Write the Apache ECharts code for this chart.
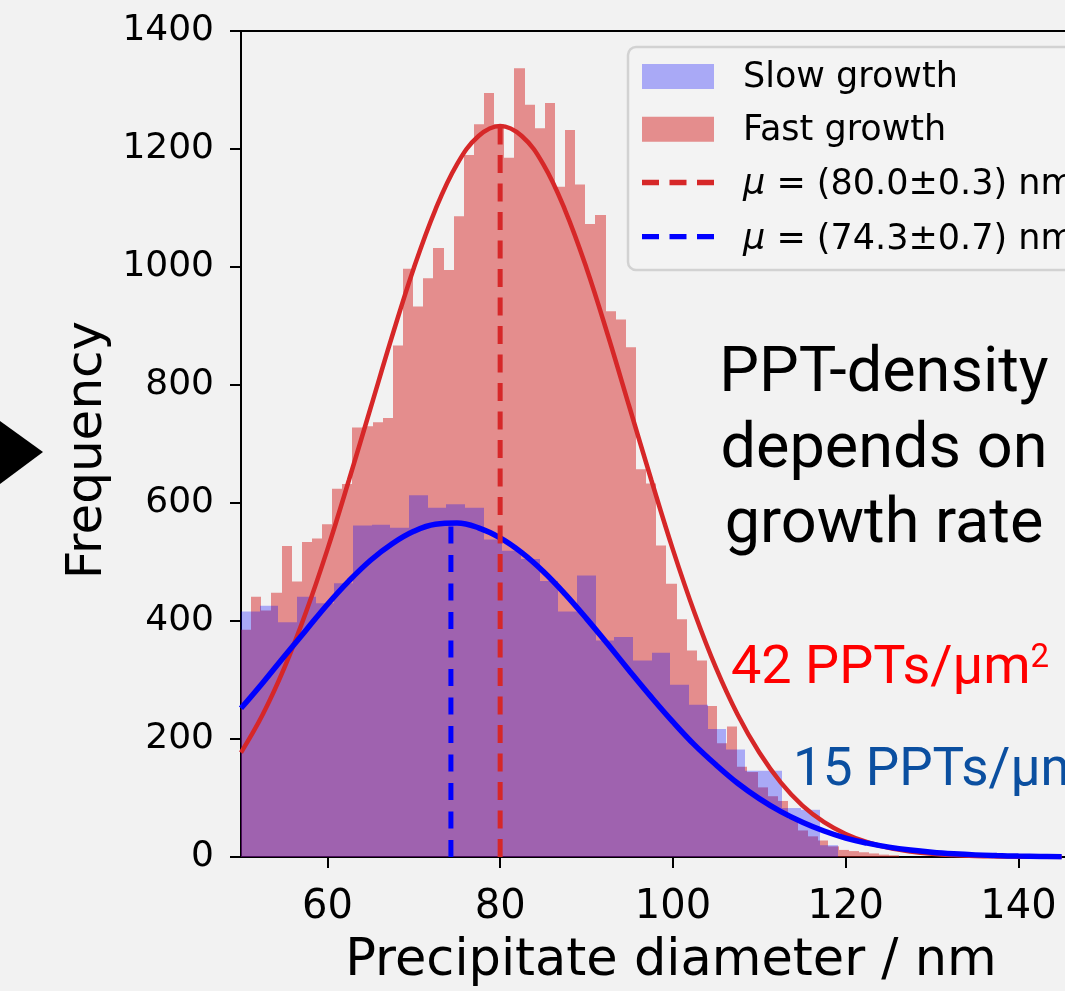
<!DOCTYPE html>
<html><head><meta charset="utf-8">
<script src="https://cdn.jsdelivr.net/npm/echarts@6/dist/echarts.min.js"></script>
<style>html,body{margin:0;padding:0;background:#f2f2f2;}#c{width:1065px;height:991px;}</style>
</head><body><div id="c"></div>
<script>
// ---- data ----
const fastBinStart = 50.0;
const fastBinWidth = 1.1725;
const fastCounts = [385,441,418,448,527,467,534,540,564,624,
  632,728,730,737,744,867,997,933,981,1032,
  995,1086,1190,1242,1295,1242,1185,1337,1275,1235,
  1278,1136,1232,1140,1073,1088,925,911,864,657,
  633,528,463,403,350,333,256,193,221,153,
  144,118,103,95,65,45,35,28,18,12,
  10,8,6,4,3];
const slowBinStart = 50.0;
const slowBinWidth = 2.161;
const slowCounts = [416,426,398,441,430,464,562,563,558,613,
  592,598,592,538,519,505,468,416,477,367,
  373,333,346,292,258,217,182,146,146,83,80,20];
const fitX = [50,52.5,55,57.5,60,62.5,65,67.5,70,72.5,75,77.5,80,82.5,85,87.5,90,92.5,95,97.5,100,102.5,105,107.5,110,112.5,115,117.5,120,122.5,125,127.5,130,132.5,135,137.5,140,142.5,145];
const fastFit = [177,241,320,414,521,639,761,883,998,1097,1174,1222,1239,1222,1174,1097,998,883,761,639,521,414,320,241,177,126,87,59,39,25,15.5,9.4,5.5,3.2,1.8,1,0.5,0.25,0.1];
const slowFit = [252,295,340,384,428,468,503,531,552,564,566,558,541,516,484,446,404,360,315,271,229,190,156,125,99,77,59,44,32,23.5,16.7,11.7,8.1,5.5,3.6,2.4,1.5,1,0.6];
const fastMean = 80.0, fastMeanTop = 1239;
const slowMean = 74.3, slowMeanTop = 566;
const xTickValues = [60,80,100,120,140];
const yTickValues = [0,200,400,600,800,1000,1200,1400];
const legendLabels = ['Slow growth','Fast growth','(80.0±0.3) nm','(74.3±0.7) nm'];

// ---- build ----
const fastBins = fastCounts.map((c,i)=>[fastBinStart+i*fastBinWidth, fastBinStart+(i+1)*fastBinWidth, c]);
const slowBins = slowCounts.map((c,i)=>[slowBinStart+i*slowBinWidth, slowBinStart+(i+1)*slowBinWidth, c]);
const FAST_FILL = 'rgba(214,39,40,0.5)';
const SLOW_FILL = 'rgba(0,0,255,0.3)';
function histRender(fill){
  return function(params, api){
    const a = api.coord([api.value(0), api.value(2)]);
    const b = api.coord([api.value(1), 0]);
    const x0 = Math.round(a[0]), x1 = Math.round(b[0]);
    const cs = params.coordSys;
    const r = echarts.graphic.clipRectByRect({x:x0, y:a[1], width:x1-x0, height:b[1]-a[1]},
      {x:cs.x, y:cs.y, width:cs.width, height:cs.height});
    if(!r) return;
    return {type:'rect', shape:r, style:{fill:fill}};
  };
}
const FONT = "'DejaVu Sans', sans-serif";
const chart = echarts.init(document.getElementById('c'), null, {renderer:'canvas'});
const axisCommon = {
  axisLine:{show:true, onZero:false, lineStyle:{color:'#000', width:2}},
  splitLine:{show:false}
};
chart.setOption({
  backgroundColor:'#f2f2f2',
  animation:false,
  grid:{left:241, top:31, right:0, bottom:134, containLabel:false},
  xAxis:[{
    type:'value', min:50, max:145.39, position:'bottom',
    ...axisCommon,
    axisTick:{show:true, length:11, lineStyle:{color:'#000', width:2}, customValues:xTickValues},
    axisLabel:{show:true, margin:31, color:'#000', fontSize:40, fontFamily:FONT, customValues:xTickValues,
      formatter:v=>String(v)}
  },{
    type:'value', min:50, max:145.39, position:'top',
    ...axisCommon, axisTick:{show:false}, axisLabel:{show:false}
  }],
  yAxis:{
    type:'value', min:0, max:1400, interval:200,
    ...axisCommon,
    axisTick:{show:true, length:11, lineStyle:{color:'#000', width:2}, customValues:yTickValues},
    axisLabel:{show:true, margin:27, color:'#000', fontSize:36, fontFamily:FONT, customValues:yTickValues,
      formatter:v=>String(v)}
  },
  series:[
    {name:'Fast growth', type:'custom', renderItem:histRender(FAST_FILL), data:fastBins, encode:{x:[0,1], y:2}, z:1},
    {name:'Slow growth', type:'custom', renderItem:histRender(SLOW_FILL), data:slowBins, encode:{x:[0,1], y:2}, z:2},
    {name:'fast fit', type:'line', data:fitX.map((x,i)=>[x, fastFit[i]]), smooth:0.4, showSymbol:false, symbol:'none',
      lineStyle:{color:'#d62728', width:4.5}, z:3},
    {name:'slow fit', type:'line', data:fitX.map((x,i)=>[x, slowFit[i]]), smooth:0.4, showSymbol:false, symbol:'none',
      lineStyle:{color:'#0000ff', width:5.5}, z:4},
    {name:'fast mean', type:'line', data:[[fastMean,0],[fastMean,fastMeanTop]], showSymbol:false, symbol:'none',
      lineStyle:{color:'#d62728', width:5, type:[18,10.5], cap:'butt'}, z:5},
    {name:'slow mean', type:'line', data:[[slowMean,0],[slowMean,slowMeanTop]], showSymbol:false, symbol:'none',
      lineStyle:{color:'#0000ff', width:5, type:[17,11.5], cap:'butt'}, z:5}
  ],
  graphic:[
    // legend box
    {type:'rect', shape:{x:628, y:47, width:520, height:223, r:8}, style:{fill:'rgba(242,242,242,0.8)', stroke:'#d2d2d2', lineWidth:2.5}, z:50},
    {type:'rect', shape:{x:642, y:64, width:72, height:25}, style:{fill:SLOW_FILL}, z:51},
    {type:'rect', shape:{x:642, y:116.7, width:72, height:25}, style:{fill:FAST_FILL}, z:51},
    {type:'line', shape:{x1:642, y1:182.5, x2:714, y2:182.5}, style:{stroke:'#d62728', lineWidth:5.3, lineDash:[17,10.5]}, z:51},
    {type:'line', shape:{x1:642, y1:236.7, x2:714, y2:236.7}, style:{stroke:'#0000ff', lineWidth:5.3, lineDash:[17,10.5]}, z:51},
    {type:'text', x:743, y:78, style:{text:legendLabels[0], font:"35px "+FONT, fill:'#000', verticalAlign:'middle'}, z:51},
    {type:'text', x:743, y:131.3, style:{text:legendLabels[1], font:"35px "+FONT, fill:'#000', verticalAlign:'middle'}, z:51},
    {type:'text', x:743, y:184.6, style:{text:'{i|μ} = '+legendLabels[2], font:"35px "+FONT, fill:'#000', verticalAlign:'middle',
      rich:{i:{fontStyle:'italic', fontSize:35, fontFamily:"'DejaVu Sans'"}}}, z:51},
    {type:'text', x:743, y:239.6, style:{text:'{i|μ} = '+legendLabels[3], font:"35px "+FONT, fill:'#000', verticalAlign:'middle',
      rich:{i:{fontStyle:'italic', fontSize:35, fontFamily:"'DejaVu Sans'"}}}, z:51},
    // annotations
    {type:'text', x:884, y:375.2, style:{text:'PPT-density', font:"63px Roboto", fill:'#000', align:'center', verticalAlign:'middle'}, z:60},
    {type:'text', x:884, y:450.9, style:{text:'depends on', font:"63px Roboto", fill:'#000', align:'center', verticalAlign:'middle'}, z:60},
    {type:'text', x:884, y:526.6, style:{text:'growth rate', font:"63px Roboto", fill:'#000', align:'center', verticalAlign:'middle'}, z:60},
    {type:'text', x:731, y:669.3, style:{text:'42 PPTs/μm{s|2}', font:"54px Roboto", fill:'#ff0000', verticalAlign:'middle',
      rich:{s:{fontSize:33, fontFamily:'Roboto', fill:'#ff0000', verticalAlign:'top', lineHeight:54}}}, z:60},
    {type:'text', x:793, y:772, style:{text:'15 PPTs/μm{s|2}', font:"53px Roboto", fill:'#0b4fa0', verticalAlign:'middle',
      rich:{s:{fontSize:33, fontFamily:'Roboto', fill:'#0b4fa0', verticalAlign:'top', lineHeight:53}}}, z:60},
    // axis titles
    {type:'text', x:671, y:962, style:{text:'Precipitate diameter / nm', font:"51px "+FONT, fill:'#000', align:'center', verticalAlign:'middle'}, z:60},
    {type:'text', x:88, y:450, rotation:Math.PI/2, style:{text:'Frequency', font:"50px "+FONT, fill:'#000', align:'center', verticalAlign:'middle'}, z:60},
    // arrow
    {type:'polygon', shape:{points:[[0,421],[43,452],[0,484]]}, style:{fill:'#000'}, z:60}
  ]
});
</script></body></html>
